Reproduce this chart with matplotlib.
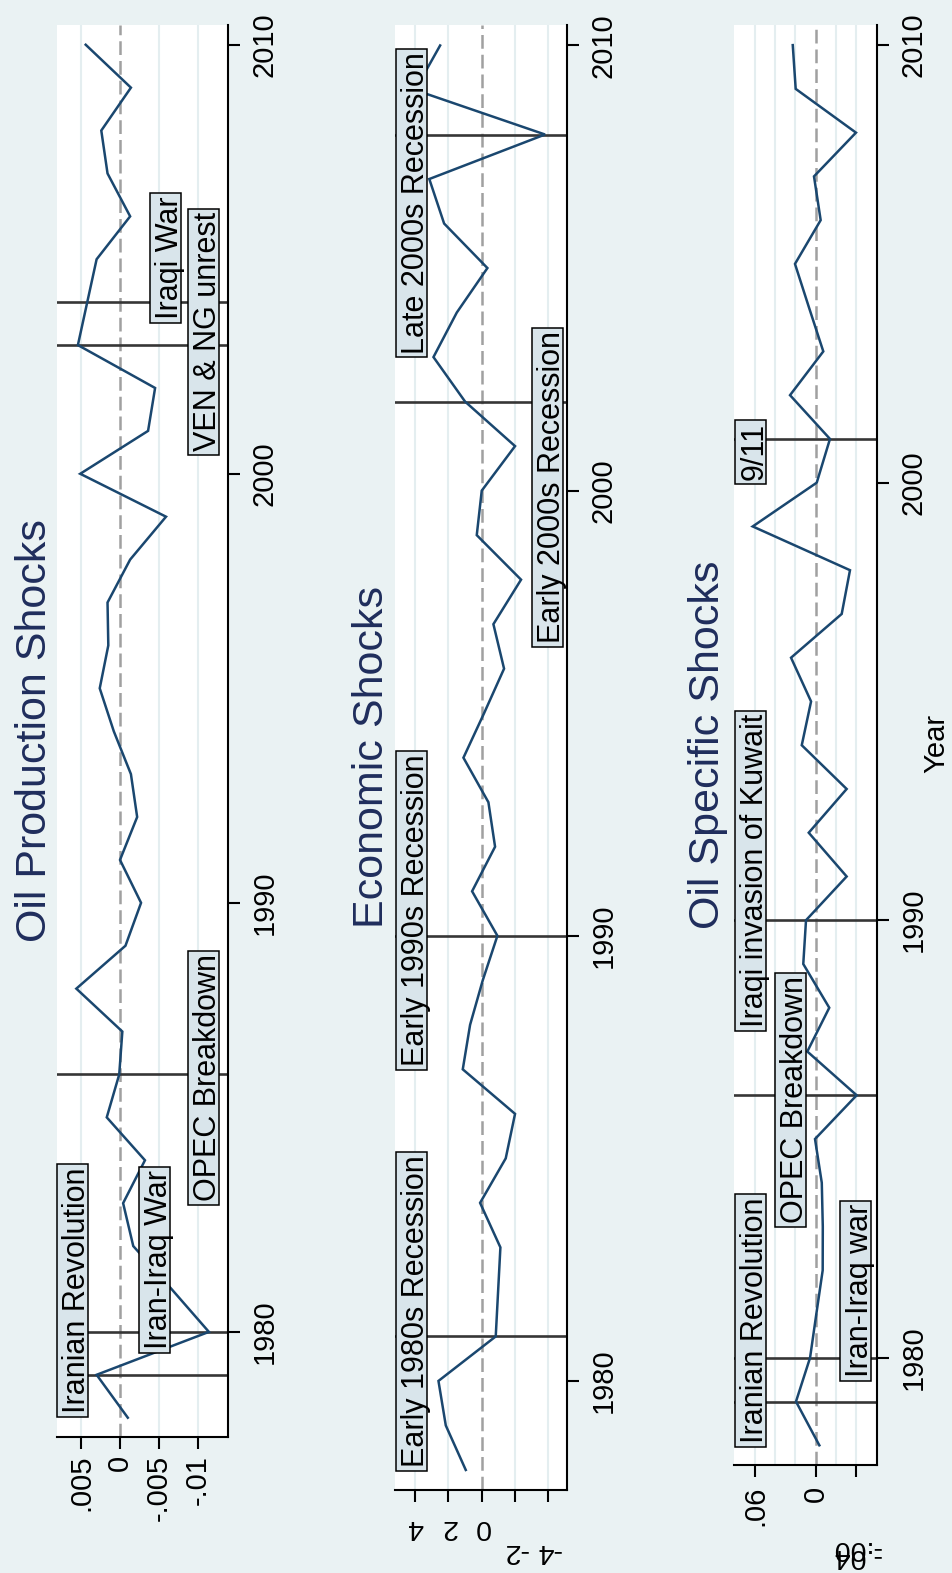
import matplotlib
matplotlib.use("Agg")
import matplotlib.pyplot as plt
from matplotlib.patches import Rectangle
from matplotlib.transforms import blended_transform_factory

plt.rcParams["font.family"] = ["Liberation Sans", "DejaVu Sans"]

# ---------------------------------------------------------------- data
years = list(range(1978, 2011))

oil_production = [-0.0010, 0.0030, -0.0114, -0.0066, -0.0017, -0.0004, -0.0032,
                  0.0017, 0.0001, -0.0003, 0.0056, -0.0007, -0.0027, 0.0000,
                  -0.0022, -0.0014, 0.0008, 0.0026, 0.0015, 0.0016, -0.0013,
                  -0.0059, 0.0051, -0.0036, -0.0045, 0.0054, 0.0042, 0.0030,
                  -0.0013, 0.0016, 0.0024, -0.0014, 0.0044]

economic = [0.96, 2.16, 2.60, -0.84, -0.98, -1.12, 0.10, -1.44, -2.00, 1.14,
            0.70, -0.06, -0.94, 0.58, -0.80, -0.40, 1.10, -0.14, -1.34, -0.70,
            -2.36, 0.30, 0.00, -2.00, 1.00, 2.90, 1.50, -0.34, 2.26, 3.15,
            -3.80, 4.00, 2.50]

oil_specific = [-0.0036, 0.0195, 0.0056, -0.0006, -0.0069, -0.0070, -0.0060,
                0.0007, -0.0405, 0.0083, -0.0134, 0.0123, 0.0096, -0.0306,
                0.0069, -0.0306, 0.0138, 0.0046, 0.0244, -0.0257, -0.0339,
                0.0623, -0.0010, -0.0141, 0.0254, -0.0075, 0.0066, 0.0205,
                -0.0049, 0.0017, -0.0398, 0.0198, 0.0227]

prod_event_years = [1979, 1980, 1986, 2003, 2004]
prod_event_labels = ["Iranian Revolution", "Iran-Iraq War", "OPEC Breakdown",
                     "VEN & NG unrest", "Iraqi War"]
econ_event_years = [1981, 1990, 2002, 2008]
econ_event_labels = ["Early 1980s Recession", "Early 1990s Recession",
                     "Early 2000s Recession", "Late 2000s Recession"]
spec_event_years = [1979, 1980, 1986, 1990, 2001]
spec_event_labels = ["Iranian Revolution", "Iran-Iraq war", "OPEC Breakdown",
                     "Iraqi invasion of Kuwait", "9/11"]

prod_ticks = [0.005, 0, -0.005, -0.01]
prod_ticklabels = [".005", "0", "-.005", "-.01"]
econ_ticks = [4, 2, 0, -2, -4]
econ_ticklabels = ["4", "2", "0", "-2", "-4"]
spec_ticks = [0.06, 0, -0.04]
spec_ticklabels = [".06", "0", "-.04"]
year_ticks = [1980, 1990, 2000, 2010]

# ---------------------------------------------------------------- style
W, H = 952, 1573
BG = "#EAF2F3"
GRID = "#E4EEF0"
LINE = "#1A476F"
EVENT = "#363636"
BOXFC = "#D9E5EB"
TITLE = "#1F2D5C"
TICK_FS = 21
LABEL_FS = 22
TITLE_FS = 31

fig = plt.figure(figsize=(W / 100, H / 100), dpi=100, facecolor=BG)


def px_axes(x0, x1, y0, y1):
    return fig.add_axes([x0 / W, 1 - y1 / H, (x1 - x0) / W, (y1 - y0) / H])


panels = [
    dict(title="Oil Production Shocks", values=oil_production,
         ev_years=prod_event_years, ev_labels=prod_event_labels,
         box=(57, 228, 25, 1437), xlim=(0.00808, -0.01385),
         grid=[0.005, -0.005, -0.01], ticks=prod_ticks, ticklabels=prod_ticklabels,
         xpad=4.3, title_x=46,
         label_pos=[(0.00449, 1978.10), (-0.00603, 1979.59), (-0.01237, 1983.04),
                    (-0.01237, 2000.52), (-0.0075, 2003.60)]),
    dict(title="Economic Shocks", values=economic,
         ev_years=econ_event_years, ev_labels=econ_event_labels,
         box=(395, 567, 25, 1490), xlim=(5.21, -5.12),
         grid=[4, 2, -2, -4], ticks=econ_ticks, ticklabels=econ_ticklabels,
         xpad=None, title_x=383,
         label_pos=[(3.44, 1978.06), (3.44, 1987.07), (-4.67, 1996.57),
                    (3.44, 2003.07)]),
    dict(title="Oil Specific Shocks", values=oil_specific,
         ev_years=spec_event_years, ev_labels=spec_event_labels,
         box=(734, 877, 25, 1465), xlim=(0.0808, -0.0606),
         grid=[0.06, 0.04, 0.02, -0.02, -0.04], ticks=spec_ticks,
         ticklabels=spec_ticklabels, xpad=6.5, title_x=719,
         label_pos=[(0.0526, 1978.05), (-0.0517, 1979.55), (0.0121, 1983.07),
                    (0.0521, 1987.55), (0.0521, 2000.05)]),
]

boxes = []
for i, p in enumerate(panels):
    x0, x1, y0, y1 = p["box"]
    ax = px_axes(x0, x1, y0, y1)
    ax.set_facecolor("white")
    ax.set_xlim(*p["xlim"])
    ax.set_ylim(1977.55, 2010.46)

    for g in p["grid"]:
        ax.axvline(g, color=GRID, lw=1.5, zorder=0.5)
    ax.axvline(0, color="#A0A0A0", lw=1.8, ls=(0, (5.5, 2.4)), zorder=1)
    for ey in p["ev_years"]:
        ax.axhline(ey, color=EVENT, lw=1.9, zorder=1.5)
    ax.plot(p["values"], years, color=LINE, lw=1.8, zorder=2,
            solid_joinstyle="miter")

    for side in ("top", "left"):
        ax.spines[side].set_visible(False)
    for side in ("right", "bottom"):
        ax.spines[side].set_linewidth(1.5)
        ax.spines[side].set_color("black")

    # year axis on the right
    ax.yaxis.tick_right()
    ax.set_yticks(year_ticks)
    ax.set_yticklabels([str(y) for y in year_ticks])
    ax.tick_params(axis="y", direction="out", length=8.4, width=1.5,
                   labelsize=TICK_FS, pad=8)
    for lbl in ax.get_yticklabels():
        lbl.set_rotation(90)
        lbl.set_ha("left")
        lbl.set_va("center")

    # value axis along the bottom
    ax.set_xticks(p["ticks"])
    ax.tick_params(axis="x", direction="out", length=8.4, width=1.5,
                   labelsize=TICK_FS)
    blend = blended_transform_factory(ax.transData, fig.transFigure)
    if i == 0:
        ax.set_xticklabels(p["ticklabels"])
        ax.tick_params(axis="x", pad=p["xpad"])
        for lbl in ax.get_xticklabels():
            lbl.set_rotation(90)
            lbl.set_ha("center")
            lbl.set_va("top")
    elif i == 1:
        ax.tick_params(axis="x", labelbottom=False)
        for t, lab in zip(p["ticks"], p["ticklabels"]):
            ypix = 1527 if t >= 0 else 1551
            ax.text(t, 1 - ypix / H, lab, transform=blend, rotation=180,
                    ha="center", va="center", fontsize=TICK_FS - 0.5)
    else:
        ax.set_xticklabels(p["ticklabels"][:2] + [""])
        ax.tick_params(axis="x", pad=p["xpad"])
        for lbl in ax.get_xticklabels():
            lbl.set_rotation(90)
            lbl.set_ha("center")
            lbl.set_va("top")
        t = p["ticks"][2]
        ax.text(t, 1 - 1556 / H, p["ticklabels"][2], transform=blend,
                rotation=180, ha="center", va="center", fontsize=TICK_FS - 0.5)
        ax.text(t, 1 - 1548 / H, "-.00", transform=blend,
                rotation=180, ha="center", va="center", fontsize=TICK_FS - 0.5)

    # event labels
    for (v, yr), lab in zip(p["label_pos"], p["ev_labels"]):
        t = ax.text(v, yr, lab, rotation=90, rotation_mode="anchor",
                    ha="left", va="baseline", fontsize=LABEL_FS, zorder=3,
                    clip_on=False)
        boxes.append((ax, t, v, yr))

    # panel title
    cy = (y0 + y1) / 2
    fig.text(p["title_x"] / W, 1 - cy / H, p["title"], rotation=90,
             rotation_mode="anchor", ha="center", va="baseline",
             fontsize=TITLE_FS, color=TITLE)

fig.text(944 / W, 1 - 743 / H, "Year", rotation=90, rotation_mode="anchor",
         ha="center", va="baseline", fontsize=TICK_FS, color="black")

# boxes behind the event labels
fig.canvas.draw()
renderer = fig.canvas.get_renderer()
for ax, t, v, yr in boxes:
    bb = t.get_window_extent(renderer)
    bx, _ = ax.transData.transform((v, yr))
    inv = ax.transData.inverted()
    (dx0, dy0) = inv.transform((bx - 28, bb.y0 - 3.5))
    (dx1, dy1) = inv.transform((bx + 3, bb.y1 + 3.5))
    ax.add_patch(Rectangle((min(dx0, dx1), min(dy0, dy1)), abs(dx1 - dx0),
                           abs(dy1 - dy0), facecolor=BOXFC, edgecolor="black",
                           lw=1.1, zorder=2.5, clip_on=False))

fig.savefig("out.png", dpi=100, facecolor=BG)
